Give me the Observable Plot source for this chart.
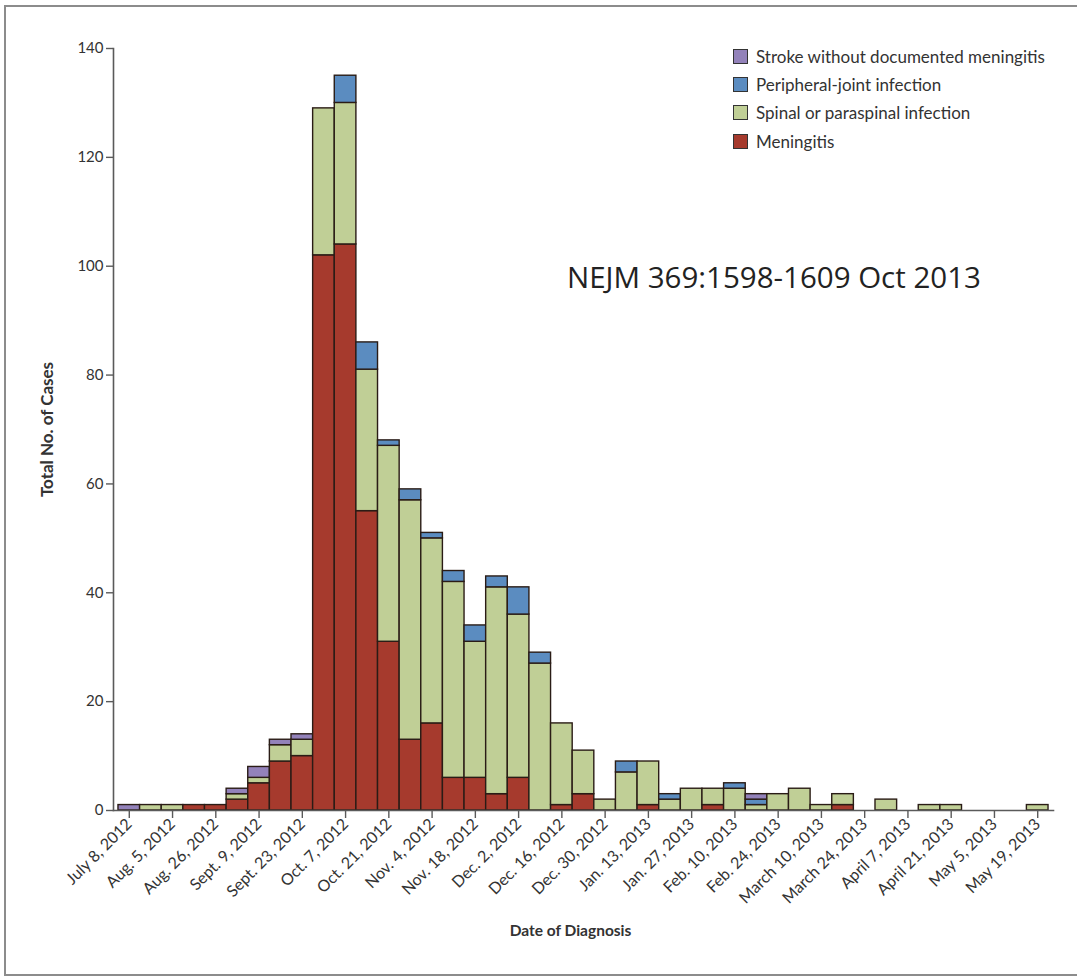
<!DOCTYPE html>
<html>
<head>
<meta charset="utf-8">
<script src="https://cdn.jsdelivr.net/npm/d3@7"></script>
<script src="https://cdn.jsdelivr.net/npm/@observablehq/plot@0.6"></script>
<style>
  html, body { margin: 0; padding: 0; background: #fff; overflow: hidden; }
  #wrap { position: relative; width: 1077px; height: 979px; font-family: Lato, "Open Sans", sans-serif; }
  #border { position: absolute; left: 4px; top: 5px; width: 1090px; height: 971px; border: 2px solid #8c8c8c; box-sizing: border-box; pointer-events: none; }
  #chart { position: absolute; left: 0; top: 0; }
  #legend { position: absolute; left: 733px; top: 42px; font-size: 17px; color: #333; }
  #legend .row { display: flex; align-items: center; height: 28.3px; }
  #legend .sw { width: 13px; height: 13px; border: 1px solid #333; margin-right: 8px; }
  #note { position: absolute; left: 567px; top: 256px; font-family: "Open Sans", sans-serif; font-size: 29.5px; color: #222; white-space: nowrap; }
</style>
</head>
<body>
<div id="wrap">
  <div id="chart"></div>
  <div id="legend"></div>
  <div id="note">NEJM 369:1598-1609 Oct 2013</div>
  <div id="border"></div>
</div>
<script>
// Weekly categories (every second one is labelled on the axis)
const weeks = [
  "July 8, 2012", "July 22, 2012", "Aug. 5, 2012", "Aug. 19, 2012", "Aug. 26, 2012",
  "Sept. 2, 2012", "Sept. 9, 2012", "Sept. 16, 2012", "Sept. 23, 2012", "Sept. 30, 2012",
  "Oct. 7, 2012", "Oct. 14, 2012", "Oct. 21, 2012", "Oct. 28, 2012", "Nov. 4, 2012",
  "Nov. 11, 2012", "Nov. 18, 2012", "Nov. 25, 2012", "Dec. 2, 2012", "Dec. 9, 2012",
  "Dec. 16, 2012", "Dec. 23, 2012", "Dec. 30, 2012", "Jan. 6, 2013", "Jan. 13, 2013",
  "Jan. 20, 2013", "Jan. 27, 2013", "Feb. 3, 2013", "Feb. 10, 2013", "Feb. 17, 2013",
  "Feb. 24, 2013", "March 3, 2013", "March 10, 2013", "March 17, 2013", "March 24, 2013",
  "March 31, 2013", "April 7, 2013", "April 14, 2013", "April 21, 2013", "April 28, 2013",
  "May 5, 2013", "May 12, 2013", "May 19, 2013"
];
const tickLabels = weeks.filter((d, i) => i % 2 === 0);

const series = ["Meningitis", "Spinal or paraspinal infection", "Peripheral-joint infection", "Stroke without documented meningitis"];
const colors = ["#a63a2d", "#c0cf96", "#5b8cc0", "#9382ba"];

const meningitis = [0,0,0,1,1, 2,5,9,10,102, 104,55,31,13,16, 6,6,3,6,0, 1,3,0,0,1, 0,0,1,0,0, 0,0,0,1,0, 0,0,0,0,0, 0,0,0];
const spinal     = [0,1,1,0,0, 1,1,3,3,27, 26,26,36,44,34, 36,25,38,30,27, 15,8,2,7,8, 2,4,3,4,1, 3,4,1,2,0, 2,0,1,1,0, 0,0,1];
const peripheral = [0,0,0,0,0, 0,0,0,0,0, 5,5,1,2,1, 2,3,2,5,2, 0,0,0,2,0, 1,0,0,1,1, 0,0,0,0,0, 0,0,0,0,0, 0,0,0];
const stroke     = [1,0,0,0,0, 1,2,1,1,0, 0,0,0,0,0, 0,0,0,0,0, 0,0,0,0,0, 0,0,0,0,1, 0,0,0,0,0, 0,0,0,0,0, 0,0,0];

const yTicks = [0, 20, 40, 60, 80, 100, 120, 140];

const valuesBySeries = [meningitis, spinal, peripheral, stroke];
const rows = [];
weeks.forEach((w, i) => {
  series.forEach((s, k) => {
    const v = valuesBySeries[k][i];
    if (v > 0) rows.push({week: w, type: s, value: v});
  });
});

const font = "Lato, 'Open Sans', sans-serif";
const axisColor = "#5a5a5a";

const chart = Plot.plot({
  width: 1077,
  height: 979,
  marginLeft: 113,
  marginRight: 24,
  marginTop: 48,
  marginBottom: 169,
  style: {fontFamily: font, fontSize: "14px", color: "#333", background: "transparent"},
  x: {type: "band", domain: weeks, paddingInner: 0, paddingOuter: 0.23, round: false},
  y: {domain: [0, 140]},
  color: {domain: series, range: colors},
  marks: [
    Plot.barY(rows, {
      x: "week", y: "value", fill: "type",
      stroke: "#2a1c16", strokeWidth: 1.4, order: series
    }),
    Plot.frame({anchor: "left", stroke: axisColor, strokeWidth: 1.6}),
    Plot.frame({anchor: "bottom", stroke: axisColor, strokeWidth: 1.6}),
    Plot.axisY({
      ticks: yTicks, tickSize: 7, tickPadding: 3, label: null,
      stroke: axisColor, strokeWidth: 1.4, fontSize: 15, fill: "#333"
    }),
    Plot.axisX({
      ticks: tickLabels, tickSize: 8, tickPadding: 3, tickRotate: -45,
      label: null, stroke: axisColor, strokeWidth: 1.4, fontSize: 16, fill: "#333"
    }),
    Plot.text(["Total No. of Cases"], {
      frameAnchor: "left", dx: -66, rotate: -90, textAnchor: "middle",
      fontSize: 17, fontWeight: "bold", fill: "#333"
    }),
    Plot.text(["Date of Diagnosis"], {
      frameAnchor: "bottom", dy: 125, dx: -13, textAnchor: "middle",
      fontSize: 15.5, fontWeight: "bold", fill: "#333"
    })
  ]
});
document.getElementById("chart").appendChild(chart);

// Legend (top to bottom: reverse stacking order)
const legend = document.getElementById("legend");
series.slice().reverse().forEach((s) => {
  const row = document.createElement("div");
  row.className = "row";
  const sw = document.createElement("div");
  sw.className = "sw";
  sw.style.background = colors[series.indexOf(s)];
  const label = document.createElement("span");
  label.textContent = s;
  row.appendChild(sw);
  row.appendChild(label);
  legend.appendChild(row);
});
</script>
</body>
</html>
